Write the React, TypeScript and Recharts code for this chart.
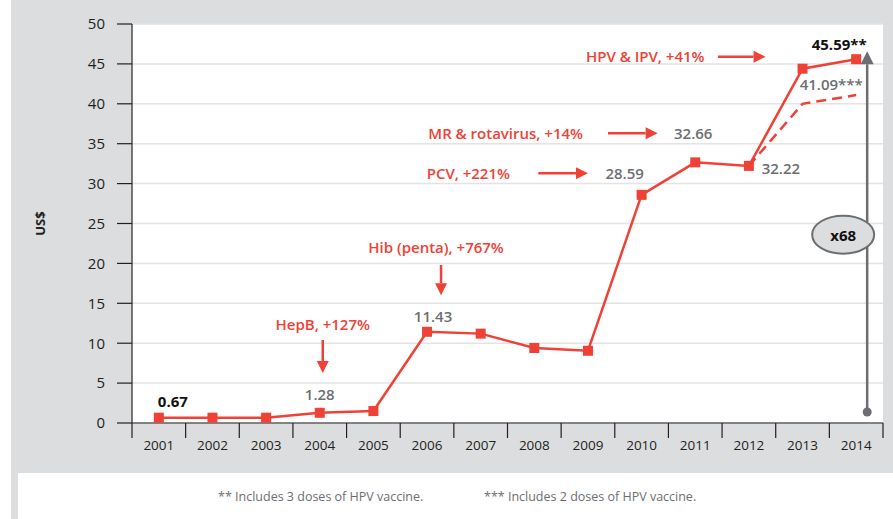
import React from "react";
import {
  LineChart, Line, XAxis, YAxis, CartesianGrid, ReferenceDot, ReferenceLine,
} from "recharts";

// Cost of fully vaccinating a child, US$
const years = ["2001", "2002", "2003", "2004", "2005", "2006", "2007", "2008", "2009", "2010", "2011", "2012", "2013", "2014"];
const costThreeDoses = [0.67, 0.67, 0.67, 1.28, 1.5, 11.43, 11.2, 9.4, 9.05, 28.59, 32.66, 32.22, 44.4, 45.59];
const costTwoDoses = [null, null, null, null, null, null, null, null, null, null, null, 32.22, 40.0, 41.09];
const yTicks = [0, 5, 10, 15, 20, 25, 30, 35, 40, 45, 50];

const RED = "#ef4136";
const GREY_TEXT = "#6d6e71";
const BG = "#dcdddf";
const FONT = "'Open Sans', 'Noto Sans', sans-serif";

const W = 893;
const H = 519;
const PLOT_LEFT = 132;
const PLOT_RIGHT = 883;
const BAND = (PLOT_RIGHT - PLOT_LEFT) / years.length;

const chartData = years.map((year, i) => ({
  year,
  three: costThreeDoses[i],
  two: costTwoDoses[i],
}));

/** Value labels sitting near the points */
const valueLabels: Array<{ x: string; y: number; dx: number; text: string; color: string; bold?: boolean }> = [
  { x: "2001", y: 2.76, dx: 14, text: "0.67", color: "#111", bold: true },
  { x: "2004", y: 3.63, dx: 0, text: "1.28", color: GREY_TEXT },
  { x: "2006", y: 13.4, dx: 6, text: "11.43", color: GREY_TEXT },
  { x: "2010", y: 31.3, dx: -17, text: "28.59", color: GREY_TEXT },
  { x: "2011", y: 36.3, dx: -2, text: "32.66", color: GREY_TEXT },
  { x: "2012", y: 31.95, dx: 32, text: "32.22", color: GREY_TEXT },
  { x: "2014", y: 47.5, dx: -17, text: "45.59**", color: "#111", bold: true },
  { x: "2014", y: 42.5, dx: -25, text: "41.09***", color: GREY_TEXT },
];

/** Vaccine introductions (red text) */
const introLabels: Array<{ x: string; y: number; dx: number; text: string }> = [
  { x: "2004", y: 12.4, dx: 3, text: "HepB, +127%" },
  { x: "2006", y: 22.06, dx: 9, text: "Hib (penta), +767%" },
  { x: "2008", y: 31.3, dx: -66, text: "PCV, +221%" },
  { x: "2007", y: 36.3, dx: 25, text: "MR & rotavirus, +14%" },
  { x: "2011", y: 46.0, dx: -50, text: "HPV & IPV, +41%" },
];

/** Red arrows: from point -> to point (category, value) with pixel nudges */
const introArrows: Array<{ from: [string, number]; to: [string, number]; dx1: number; dx2: number }> = [
  { from: ["2004", 10.4], to: ["2004", 6.27], dx1: 3, dx2: 3 },
  { from: ["2006", 19.8], to: ["2006", 16.0], dx1: 14, dx2: 14 },
  { from: ["2008", 31.3], to: ["2009", 31.3], dx1: 4, dx2: 0 },
  { from: ["2009", 36.3], to: ["2010", 36.3], dx1: 20, dx2: 16 },
  { from: ["2012", 45.9], to: ["2013", 45.9], dx1: -31, dx2: -37 },
];

function arrowShape(dx1: number, dx2: number, color: string, width: number, head: number, tail?: boolean) {
  return (p: any) => {
    const x1 = p.x1 + dx1;
    const x2 = p.x2 + dx2;
    const y1 = p.y1;
    const y2 = p.y2;
    const len = Math.hypot(x2 - x1, y2 - y1) || 1;
    const ux = (x2 - x1) / len;
    const uy = (y2 - y1) / len;
    const bx = x2 - ux * head;
    const by = y2 - uy * head;
    const hw = head * 0.5;
    return (
      <g>
        <line x1={x1} y1={y1} x2={bx} y2={by} stroke={color} strokeWidth={width} />
        <polygon
          points={`${x2},${y2} ${bx - uy * hw},${by + ux * hw} ${bx + uy * hw},${by - ux * hw}`}
          fill={color}
        />
        {tail && <circle cx={x1} cy={y1} r={4.5} fill={color} />}
      </g>
    );
  };
}

function SquareDot(p: any) {
  if (p.cx == null || p.cy == null) return <g key={p.index} />;
  return <rect key={p.index} x={p.cx - 5} y={p.cy - 5} width={10} height={10} fill={RED} />;
}

function YearTick(p: any) {
  const { x, y, payload, index } = p;
  const left = x - BAND / 2;
  const right = x + BAND / 2;
  return (
    <g>
      <line x1={left} y1={y} x2={left} y2={y + 15} stroke="#231f20" strokeWidth={1.2} />
      {index === years.length - 1 && (
        <line x1={right} y1={y} x2={right} y2={y + 15} stroke="#231f20" strokeWidth={1.2} />
      )}
      <text x={x} y={y + 22} textAnchor="middle" dominantBaseline="central" fill="#231f20" fontSize={13.5} fontFamily={FONT}>
        {payload.value}
      </text>
    </g>
  );
}

export default function App() {
  return (
    <div style={{ position: "absolute", left: 0, top: 0, width: W, height: H, background: "#fff", overflow: "hidden" }}>
      <div style={{ position: "absolute", left: 11, top: 0, width: W - 11, height: H, background: BG }} />
      <div style={{ position: "absolute", left: 18, top: 473, width: W - 18, height: H - 473, background: "#fff" }} />
      <div style={{ position: "absolute", left: 218, top: 488, fontSize: 12.5, color: GREY_TEXT, fontFamily: FONT, whiteSpace: "nowrap" }}>
        ** Includes 3 doses of HPV vaccine.
      </div>
      <div style={{ position: "absolute", left: 484, top: 488, fontSize: 12.5, color: GREY_TEXT, fontFamily: FONT, whiteSpace: "nowrap" }}>
        *** Includes 2 doses of HPV vaccine.
      </div>

      <div style={{ position: "absolute", left: 0, top: 0 }}>
        <LineChart
          width={W}
          height={H}
          data={chartData}
          margin={{ top: 24, right: W - PLOT_RIGHT, bottom: 66, left: PLOT_LEFT - 60 }}
        >
          <CartesianGrid vertical={false} stroke="#e3e3e3" fill="#ffffff" strokeWidth={1.5} />
          <XAxis
            dataKey="year"
            scale="band"
            height={30}
            axisLine={{ stroke: "#231f20", strokeWidth: 1.2 }}
            tickLine={false}
            tickSize={0}
            tickMargin={0}
            interval={0}
            tick={<YearTick />}
          />
          <YAxis
            width={60}
            domain={[0, 50]}
            ticks={yTicks}
            interval={0}
            axisLine={{ stroke: "#4d4d4f", strokeWidth: 1.5 }}
            tickLine={{ stroke: "#231f20", strokeWidth: 1.2 }}
            tickSize={15}
            tickMargin={12}
            tick={{ fill: "#231f20", fontSize: 15, fontFamily: FONT }}
            label={(p: any) => {
              const vb = p.viewBox || { x: 72, y: 24, width: 60, height: 399 };
              const cx = vb.x - 32;
              const cy = vb.y + vb.height / 2;
              return (
                <text x={cx} y={cy} transform={`rotate(-90, ${cx}, ${cy})`} textAnchor="middle" dominantBaseline="central"
                  fontSize={13} fontWeight={700} fill="#231f20" fontFamily={FONT}>
                  US$
                </text>
              );
            }}
          />

          <Line
            dataKey="two"
            stroke={RED}
            strokeWidth={2.5}
            strokeDasharray="10 6"
            dot={false}
            activeDot={false}
            connectNulls={false}
            isAnimationActive={false}
          />
          <Line
            dataKey="three"
            stroke={RED}
            strokeWidth={2.5}
            dot={SquareDot}
            activeDot={false}
            isAnimationActive={false}
          />

          {/* x68 growth arrow */}
          <ReferenceLine
            segment={[{ x: "2014", y: 1.38 }, { x: "2014", y: 46.6 }]}
            ifOverflow="visible"
            shape={arrowShape(11, 11, GREY_TEXT, 2.5, 13, true)}
          />
          <ReferenceDot
            x="2014"
            y={23.6}
            ifOverflow="visible"
            shape={(p: any) => (
              <g>
                <ellipse cx={p.cx - 13} cy={p.cy} rx={31} ry={19} fill={BG} stroke={GREY_TEXT} strokeWidth={2} />
                <text x={p.cx - 13} y={p.cy} textAnchor="middle" dominantBaseline="central" fontSize={15} fontWeight={700}
                  fill="#111" fontFamily={FONT}>
                  x68
                </text>
              </g>
            )}
          />

          {introArrows.map((a, i) => (
            <ReferenceLine
              key={`arrow-${i}`}
              segment={[{ x: a.from[0], y: a.from[1] }, { x: a.to[0], y: a.to[1] }]}
              ifOverflow="visible"
              shape={arrowShape(a.dx1, a.dx2, RED, 2.5, 12)}
            />
          ))}

          {introLabels.map((l, i) => (
            <ReferenceDot
              key={`intro-${i}`}
              x={l.x}
              y={l.y}
              ifOverflow="visible"
              shape={(p: any) => (
                <text x={p.cx + l.dx} y={p.cy} textAnchor="middle" dominantBaseline="central" fontSize={15}
                  fontWeight={600} fill={RED} fontFamily={FONT}>
                  {l.text}
                </text>
              )}
            />
          ))}

          {valueLabels.map((l, i) => (
            <ReferenceDot
              key={`val-${i}`}
              x={l.x}
              y={l.y}
              ifOverflow="visible"
              shape={(p: any) => (
                <text x={p.cx + l.dx} y={p.cy} textAnchor="middle" dominantBaseline="central" fontSize={15}
                  fontWeight={l.bold ? 700 : 600} fill={l.color} fontFamily={FONT}>
                  {l.text}
                </text>
              )}
            />
          ))}
        </LineChart>
      </div>
    </div>
  );
}
